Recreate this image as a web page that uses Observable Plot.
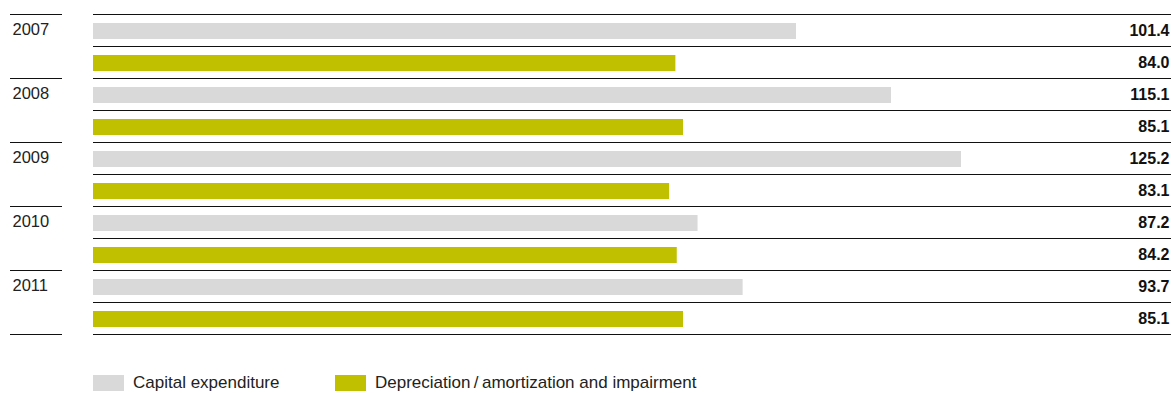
<!DOCTYPE html>
<html>
<head>
<meta charset="utf-8">
<script src="https://cdn.jsdelivr.net/npm/d3@7"></script>
<script src="https://cdn.jsdelivr.net/npm/@observablehq/plot@0.6"></script>
<style>
  body { margin: 0; background: #fff; font-family: "Liberation Sans", Arial, sans-serif; color: #222; }
  #legend { position: relative; height: 43px; }
  .sw { position: absolute; top: 25px; width: 31px; height: 16px; }
  .lb { position: absolute; top: 23px; font-size: 17px; line-height: 20px; color: #222; }
</style>
</head>
<body>
<div id="chart"></div>
<div id="legend"></div>
<script>
const years = ["2007", "2008", "2009", "2010", "2011"];
const capex = [101.4, 115.1, 125.2, 87.2, 93.7];
const depreciation = [84.0, 85.1, 83.1, 84.2, 85.1];
const seriesNames = ["Capital expenditure", "Depreciation/amortization and impairment"];
const seriesColors = ["#d9d9d9", "#c0bf00"];

const rows = years.flatMap((yr, i) => [
  { year: yr, series: seriesNames[0], value: capex[i], row: 2 * i },
  { year: yr, series: seriesNames[1], value: depreciation[i], row: 2 * i + 1 }
]);

const W = 1171;
const k = 703 / 101.4;          // px per unit
const xmin = -83 / k;           // so that 0 lands at x=93 with marginLeft 10
const xmax = (W - 93) / k;
const nRows = rows.length;

const chart = Plot.plot({
  width: W,
  height: 350,
  marginLeft: 10,
  marginRight: 0,
  marginTop: 14,
  marginBottom: 16,
  style: { fontFamily: "Liberation Sans, Arial, sans-serif", color: "#222", background: "#fff" },
  x: { domain: [xmin, xmax], axis: null },
  y: { type: "linear", domain: [0, nRows], reverse: true, axis: null },
  color: { domain: seriesNames, range: seriesColors },
  marks: [
    Plot.rectX(rows, {
      x1: 0, x2: "value",
      y1: d => d.row + 9 / 32, y2: d => d.row + 25 / 32,
      fill: "series"
    }),
    Plot.ruleY(d3.range(nRows + 1), { x1: 0, x2: xmax, stroke: "#111", strokeWidth: 1 }),
    Plot.ruleY(d3.range(0, nRows + 1, 2), { x1: xmin, x2: xmin + 52 / k, stroke: "#111", strokeWidth: 1 }),
    Plot.text(rows, {
      x: xmax, y: d => d.row + 0.52,
      text: d => d.value.toFixed(1),
      textAnchor: "end", dx: -2, fontWeight: "bold", fontSize: 16, fill: "#111"
    }),
    Plot.text(years, {
      x: xmin, y: (d, i) => 2 * i + 0.48,
      text: d => d,
      textAnchor: "start", dx: 2, fontSize: 16.5, fill: "#222"
    })
  ]
});
document.getElementById("chart").appendChild(chart);

const legend = document.getElementById("legend");
const pos = [93, 335];
seriesNames.forEach((name, i) => {
  const sw = document.createElement("div");
  sw.className = "sw";
  sw.style.left = pos[i] + "px";
  sw.style.background = seriesColors[i];
  legend.appendChild(sw);
  const lb = document.createElement("div");
  lb.className = "lb";
  lb.style.left = (pos[i] + 40) + "px";
  lb.textContent = i === 1 ? "Depreciation\u2009/\u2009amortization and impairment" : name;
  legend.appendChild(lb);
});
</script>
</body>
</html>
